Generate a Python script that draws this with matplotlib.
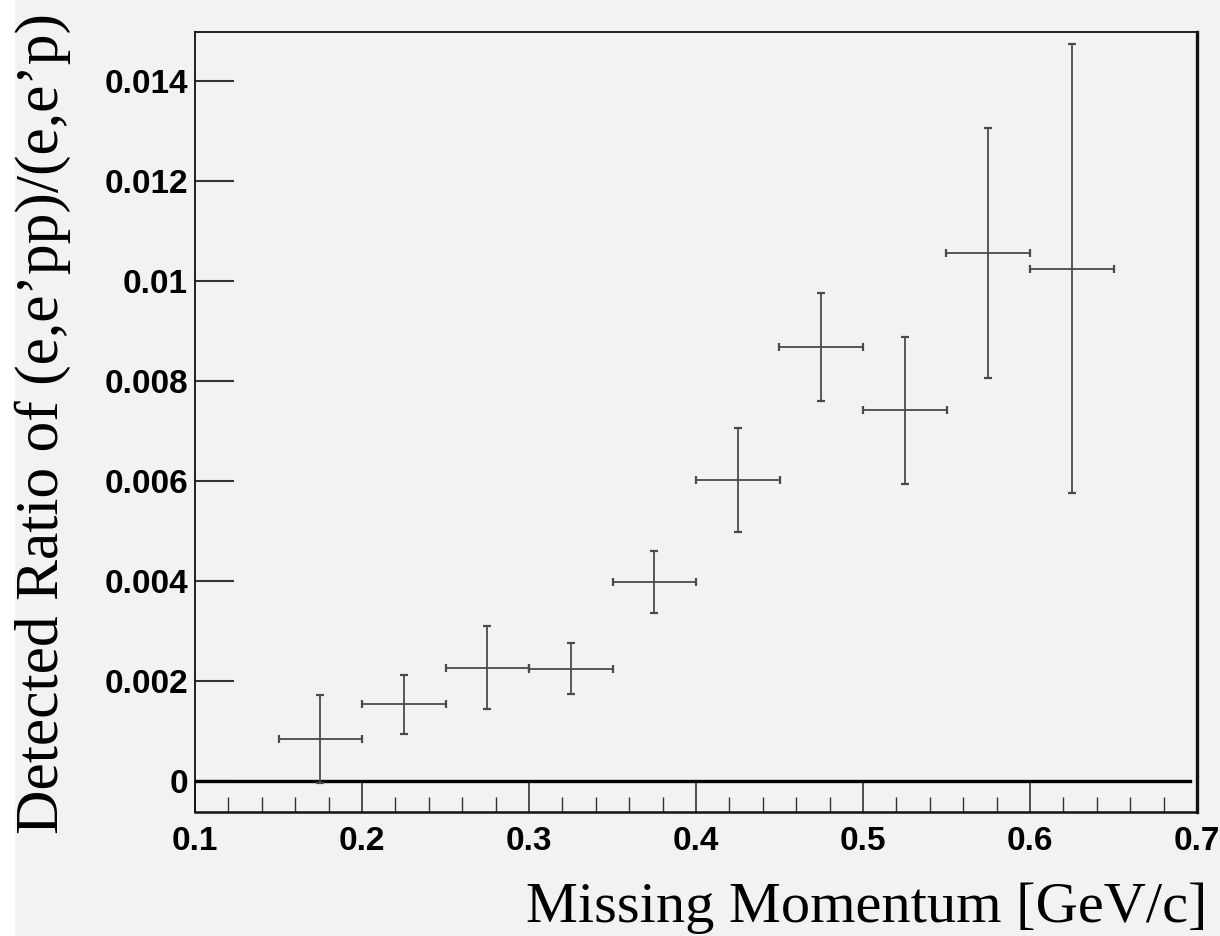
import matplotlib
matplotlib.use("Agg")
import matplotlib.pyplot as plt
from matplotlib.ticker import MultipleLocator, FixedLocator
from matplotlib.patches import Rectangle

# Data
x_centers = [0.175, 0.225, 0.275, 0.325, 0.375, 0.425, 0.475, 0.525, 0.575, 0.625]
x_halfwidth = [0.025] * 10
ratio = [0.00085, 0.00154, 0.00227, 0.00225, 0.00399, 0.00602, 0.00868, 0.00742, 0.01057, 0.01025]
ratio_err = [0.00088, 0.00059, 0.00083, 0.00051, 0.00062, 0.00103, 0.00108, 0.00147, 0.00250, 0.00449]

x_ticks = [0.1, 0.2, 0.3, 0.4, 0.5, 0.6, 0.7]
x_ticklabels = ["0.1", "0.2", "0.3", "0.4", "0.5", "0.6", "0.7"]
y_ticks = [0, 0.002, 0.004, 0.006, 0.008, 0.010, 0.012, 0.014]
y_ticklabels = ["0", "0.002", "0.004", "0.006", "0.008", "0.01", "0.012", "0.014"]

xlabel = "Missing Momentum [GeV/c]"
ylabel = "Detected Ratio of (e,e\u2019pp)/(e,e\u2019p)"

W, H = 1220, 936
fig = plt.figure(figsize=(W / 100, H / 100), dpi=100)
fig.patch.set_facecolor("#f2f2f2")
fig.patches.append(Rectangle((0, 0), 15 / W, 1, transform=fig.transFigure,
                             facecolor="white", edgecolor="none", zorder=-10))

ax = fig.add_axes([195 / W, 1 - 812 / H, (1197 - 195) / W, (812 - 32) / H])
ax.set_facecolor("#f2f2f2")

ax.set_xlim(0.1, 0.7)
ax.set_ylim(-0.00062, 0.01498)

# zero line
ax.axhline(0, xmin=0, xmax=0.993, color="black", lw=2.4, zorder=2)

ax.errorbar(x_centers, ratio, xerr=x_halfwidth, yerr=ratio_err, fmt="none",
            ecolor="#4a4a4a", elinewidth=1.3, capsize=3, capthick=1.6, zorder=3)

tick_font = dict(family=["Liberation Sans"], weight="bold", size=24)

ax.xaxis.set_major_locator(FixedLocator(x_ticks))
ax.xaxis.set_minor_locator(MultipleLocator(0.02))
ax.set_xticklabels(x_ticklabels, fontdict=tick_font)
ax.yaxis.set_major_locator(FixedLocator(y_ticks))
ax.set_yticklabels(y_ticklabels, fontdict=tick_font)

ax.tick_params(axis="x", which="major", direction="in", length=22, width=1.2, color="#333333",
               pad=10, top=False)
ax.tick_params(axis="x", which="minor", direction="in", length=11, width=1.0, color="#333333",
               top=False)
ax.tick_params(axis="y", which="major", direction="in", length=28, width=1.5, color="#333333",
               pad=5, right=False)
ax.tick_params(axis="y", which="minor", left=False, right=False)

for side, lw in [("left", 1.3), ("top", 1.3), ("right", 2.4), ("bottom", 1.8)]:
    ax.spines[side].set_linewidth(lw)
    ax.spines[side].set_color("#111111")

serif = ["Liberation Serif", "DejaVu Serif"]
fig.text(1207 / W, 1 - 922 / H, xlabel, ha="right", va="baseline",
         family=serif, fontsize=42)
fig.text(43 / W, 1 - 423 / H, ylabel, ha="center", va="center", rotation=90,
         family=serif, fontsize=44.3)

fig.savefig("out.png", dpi=100, facecolor=fig.get_facecolor())
